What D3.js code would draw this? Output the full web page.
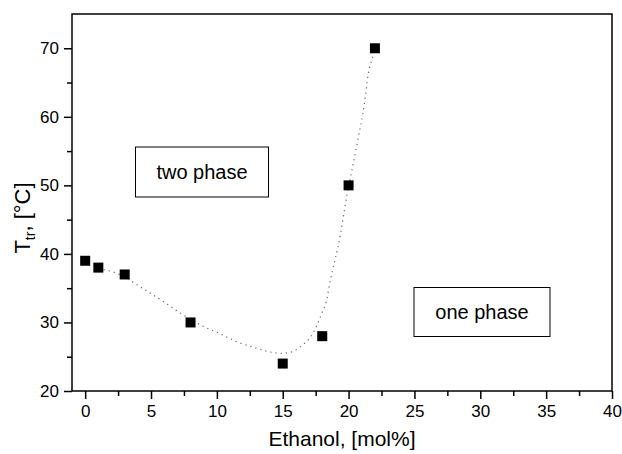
<!DOCTYPE html>
<html>
<head>
<meta charset="utf-8">
<script src="https://cdn.jsdelivr.net/npm/d3@7"></script>
<style>
  body { margin: 0; background: #fff; }
  svg { display: block; }
  text { font-family: Arial, "Liberation Sans", sans-serif; fill: #000; }
</style>
</head>
<body>
<div id="chart"></div>
<script>
// Measured points
const ethanol = [0, 1, 3, 8, 15, 18, 20, 22];
const tTr = [39, 38, 37, 30, 24, 28, 50, 70];

// Dotted guide curve
const curveX = [1.4, 1.9, 3.2, 4.1, 5.0, 5.9, 6.7, 7.2, 8.9, 10.3, 11.5, 13.1, 14.3, 15.0, 15.8, 16.5, 17.0, 17.5, 18.0, 18.3, 18.6, 18.9, 19.2, 19.9, 20.2, 20.7, 21.2, 21.5, 21.9, 22.0];
const curveY = [37.7, 37.5, 36.4, 35.3, 34.2, 33.1, 32.05, 31.4, 29.5, 28.3, 27.2, 26.2, 25.6, 25.5, 25.8, 26.7, 27.6, 29.2, 31.5, 33.0, 36.0, 38.6, 41.0, 48.8, 51.7, 56.6, 61.9, 66.3, 69.2, 70];

const xTicks = [0, 5, 10, 15, 20, 25, 30, 35, 40];
const yTicks = [20, 30, 40, 50, 60, 70];

const svgWidth = 622;
const svgHeight = 454;
const margin = { top: 14, right: 10, bottom: 63, left: 72 };
const width = svgWidth - margin.left - margin.right;
const height = svgHeight - margin.top - margin.bottom;

const svg = d3.select('#chart')
    .append('svg')
    .attr('width', svgWidth)
    .attr('height', svgHeight)
    .append('g')
    .attr('transform', `translate(${margin.left},${margin.top})`);

const xScale = d3.scaleLinear().domain([-1, 40]).range([0, width]);
const yScale = d3.scaleLinear().domain([20, 75]).range([height, 0]);

// frame
svg.append('rect')
    .attr('width', width)
    .attr('height', height)
    .attr('fill', 'none')
    .attr('stroke', '#000')
    .attr('stroke-width', 1.5);

// minor ticks
svg.append('g')
    .attr('transform', `translate(0,${height})`)
    .call(d3.axisBottom(xScale).tickValues(d3.range(2.5, 40, 5)).tickSize(5).tickFormat(''))
    .call(g => g.select('.domain').remove())
    .selectAll('line').attr('stroke-width', 1.5);

svg.append('g')
    .call(d3.axisLeft(yScale).tickValues(d3.range(25, 75, 10)).tickSize(5).tickFormat(''))
    .call(g => g.select('.domain').remove())
    .selectAll('line').attr('stroke-width', 1.5);

// major ticks
const xAxis = svg.append('g')
    .attr('transform', `translate(0,${height})`)
    .call(d3.axisBottom(xScale).tickValues(xTicks).tickSize(8).tickPadding(6))
    .call(g => g.select('.domain').remove());
xAxis.selectAll('line').attr('stroke-width', 1.5);
xAxis.selectAll('text').style('font-size', '17px').style('font-family', 'Arial, "Liberation Sans", sans-serif');

const yAxis = svg.append('g')
    .call(d3.axisLeft(yScale).tickValues(yTicks).tickSize(8).tickPadding(5))
    .call(g => g.select('.domain').remove());
yAxis.selectAll('line').attr('stroke-width', 1.5);
yAxis.selectAll('text').style('font-size', '17px').style('font-family', 'Arial, "Liberation Sans", sans-serif');

// dotted curve
const line = d3.line()
    .x((d, i) => xScale(curveX[i]))
    .y((d, i) => yScale(curveY[i]))
    .curve(d3.curveMonotoneX);

svg.append('path')
    .datum(curveX)
    .attr('d', line)
    .attr('fill', 'none')
    .attr('stroke', '#666')
    .attr('stroke-width', 1.2)
    .attr('stroke-dasharray', '1.2,4');

// markers
const size = 10;
svg.selectAll('rect.pt')
    .data(ethanol)
    .enter()
    .append('rect')
    .attr('class', 'pt')
    .attr('x', (d, i) => xScale(d) - size / 2)
    .attr('y', (d, i) => yScale(tTr[i]) - size / 2)
    .attr('width', size)
    .attr('height', size)
    .attr('fill', '#000');

// region labels
function labelBox(cx, cy, w, h, txt) {
    svg.append('rect')
        .attr('x', cx - w / 2)
        .attr('y', cy - h / 2)
        .attr('width', w)
        .attr('height', h)
        .attr('fill', '#fff')
        .attr('stroke', '#000')
        .attr('stroke-width', 1);
    svg.append('text')
        .attr('x', cx)
        .attr('y', cy + 7)
        .attr('text-anchor', 'middle')
        .style('font-size', '20px')
        .text(txt);
}
labelBox(202 - margin.left, 172 - margin.top, 133, 50, 'two phase');
labelBox(482 - margin.left, 312 - margin.top, 136, 49, 'one phase');

// axis labels
svg.append('text')
    .attr('x', 342 - margin.left)
    .attr('y', 446 - margin.top)
    .attr('text-anchor', 'middle')
    .style('font-size', '21px')
    .text('Ethanol, [mol%]');

const yLabel = svg.append('text')
    .attr('transform', `translate(${30 - margin.left},${218 - margin.top}) rotate(-90)`)
    .attr('text-anchor', 'middle')
    .style('font-size', '22px');
yLabel.append('tspan').text('T');
yLabel.append('tspan').attr('dy', 5).style('font-size', '14px').text('tr');
yLabel.append('tspan').attr('dy', -5).text(', [°C]');
</script>
</body>
</html>
